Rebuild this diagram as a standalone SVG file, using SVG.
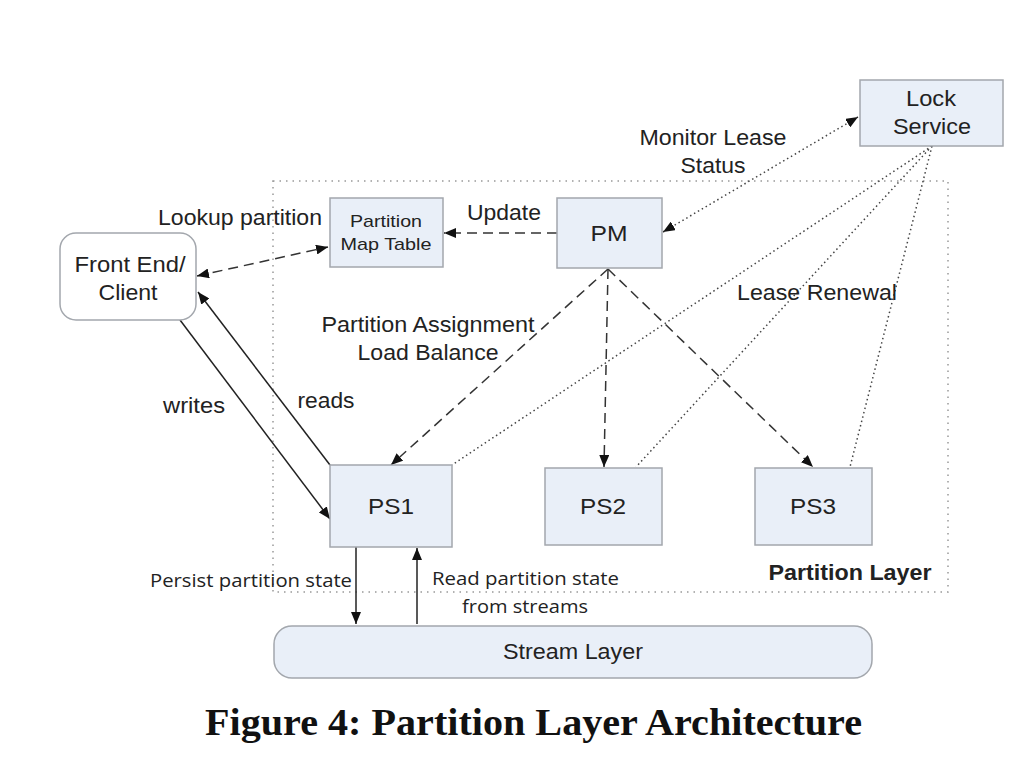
<svg xmlns="http://www.w3.org/2000/svg" width="1024" height="757" viewBox="0 0 1024 757">
<defs>
<style>
.box{fill:#e9eff8;stroke:#a3a7ad;stroke-width:1.5}
.t{font-family:"Liberation Sans",Arial,sans-serif;fill:#222;text-anchor:middle;font-size:22px}
.c{font-family:"Open Sans","Liberation Sans",sans-serif;fill:#222;font-size:19px}
.solid{stroke:#222;stroke-width:1.5;fill:none}
.dash{stroke:#333;stroke-width:1.5;fill:none;stroke-dasharray:10 6}
.dot{stroke:#444;stroke-width:1.5;fill:none;stroke-dasharray:1.5 3}
</style>
<marker id="ah" viewBox="0 0 12 10" refX="12" refY="5" markerWidth="12" markerHeight="10" markerUnits="userSpaceOnUse" orient="auto-start-reverse">
<path d="M0,0 L12,5 L0,10 z" fill="#111"/>
</marker>
</defs>
<rect width="1024" height="757" fill="#fff"/>
<g id="partition-layer">
<rect x="273" y="181" width="675" height="411" fill="none" stroke="#999" stroke-width="1.5" stroke-dasharray="1.5 5"/>
<text class="t" x="850" y="580" font-weight="bold" textLength="163" lengthAdjust="spacingAndGlyphs">Partition Layer</text>
</g>
<g id="connectors">
<line class="dot" x1="663" y1="232" x2="858" y2="117" marker-start="url(#ah)" marker-end="url(#ah)"/>
<line class="dot" x1="932" y1="146" x2="452" y2="465"/>
<line class="dot" x1="932" y1="146" x2="636" y2="467"/>
<line class="dot" x1="932" y1="146" x2="850" y2="467"/>
<line class="dash" x1="557" y1="233" x2="444" y2="233" marker-end="url(#ah)"/>
<line class="dash" x1="197" y1="276" x2="328" y2="247" marker-start="url(#ah)" marker-end="url(#ah)"/>
<line class="dash" x1="608" y1="269" x2="391" y2="465" marker-end="url(#ah)"/>
<line class="dash" x1="608" y1="269" x2="604" y2="467" marker-end="url(#ah)"/>
<line class="dash" x1="608" y1="269" x2="813" y2="467" marker-end="url(#ah)"/>
<line class="solid" x1="180" y1="320" x2="330" y2="519" marker-end="url(#ah)"/>
<line class="solid" x1="330" y1="465" x2="198" y2="292" marker-end="url(#ah)"/>
<line class="solid" x1="356" y1="547" x2="356" y2="624" marker-end="url(#ah)"/>
<line class="solid" x1="417" y1="624" x2="417" y2="548" marker-end="url(#ah)"/>
</g>
<g id="lock-service">
<rect class="box" x="860" y="80" width="143" height="66"/>
<text class="t" x="931" y="106" textLength="50" lengthAdjust="spacingAndGlyphs">Lock</text>
<text class="t" x="932" y="134" textLength="78" lengthAdjust="spacingAndGlyphs">Service</text>
</g>
<g id="pm">
<rect class="box" x="557" y="198" width="105" height="70"/>
<text class="t" x="609" y="241" textLength="37" lengthAdjust="spacingAndGlyphs">PM</text>
</g>
<g id="partition-map-table">
<rect class="box" x="330" y="198" width="113" height="69"/>
<text class="t" x="386" y="227" style="font-size:17px" textLength="72" lengthAdjust="spacingAndGlyphs">Partition</text>
<text class="t" x="386" y="250" style="font-size:17px" textLength="91" lengthAdjust="spacingAndGlyphs">Map Table</text>
</g>
<g id="front-end">
<rect x="60" y="233" width="136" height="87" rx="16" fill="#fff" stroke="#a3a7ad" stroke-width="1.5"/>
<text class="t" x="130" y="272" textLength="111" lengthAdjust="spacingAndGlyphs">Front End/</text>
<text class="t" x="128" y="300" textLength="59" lengthAdjust="spacingAndGlyphs">Client</text>
</g>
<g id="ps1">
<rect class="box" x="330" y="465" width="122" height="82"/>
<text class="t" x="391" y="514" textLength="46" lengthAdjust="spacingAndGlyphs">PS1</text>
</g>
<g id="ps2">
<rect class="box" x="545" y="468" width="117" height="77"/>
<text class="t" x="603" y="514" textLength="46" lengthAdjust="spacingAndGlyphs">PS2</text>
</g>
<g id="ps3">
<rect class="box" x="755" y="468" width="117" height="77"/>
<text class="t" x="813" y="514" textLength="46" lengthAdjust="spacingAndGlyphs">PS3</text>
</g>
<g id="stream-layer">
<rect class="box" x="274" y="626" width="598" height="52" rx="18"/>
<text class="t" x="573" y="659" textLength="140" lengthAdjust="spacingAndGlyphs">Stream Layer</text>
</g>
<g id="labels">
<text class="t" x="713" y="145" textLength="147" lengthAdjust="spacingAndGlyphs">Monitor Lease</text>
<text class="t" x="713" y="173" textLength="65" lengthAdjust="spacingAndGlyphs">Status</text>
<text class="t" x="240" y="225" textLength="164" lengthAdjust="spacingAndGlyphs">Lookup partition</text>
<text class="t" x="504" y="220" textLength="74" lengthAdjust="spacingAndGlyphs">Update</text>
<text class="t" x="817" y="300" textLength="160" lengthAdjust="spacingAndGlyphs">Lease Renewal</text>
<text class="t" x="428" y="332" textLength="213" lengthAdjust="spacingAndGlyphs">Partition Assignment</text>
<text class="t" x="428" y="360" textLength="141" lengthAdjust="spacingAndGlyphs">Load Balance</text>
<text class="t" x="194" y="413" textLength="62" lengthAdjust="spacingAndGlyphs">writes</text>
<text class="t" x="326" y="408" textLength="57" lengthAdjust="spacingAndGlyphs">reads</text>
<text class="c" x="150" y="587" textLength="202" lengthAdjust="spacingAndGlyphs">Persist partition state</text>
<text class="c" x="432" y="585" textLength="187" lengthAdjust="spacingAndGlyphs">Read partition state</text>
<text class="c" x="462" y="613" textLength="126" lengthAdjust="spacingAndGlyphs">from streams</text>
</g>
<text x="205" y="735" font-family="Liberation Serif,'Times New Roman',serif" font-weight="bold" font-size="37" fill="#111" textLength="657" lengthAdjust="spacingAndGlyphs">Figure 4: Partition Layer Architecture</text>
</svg>
